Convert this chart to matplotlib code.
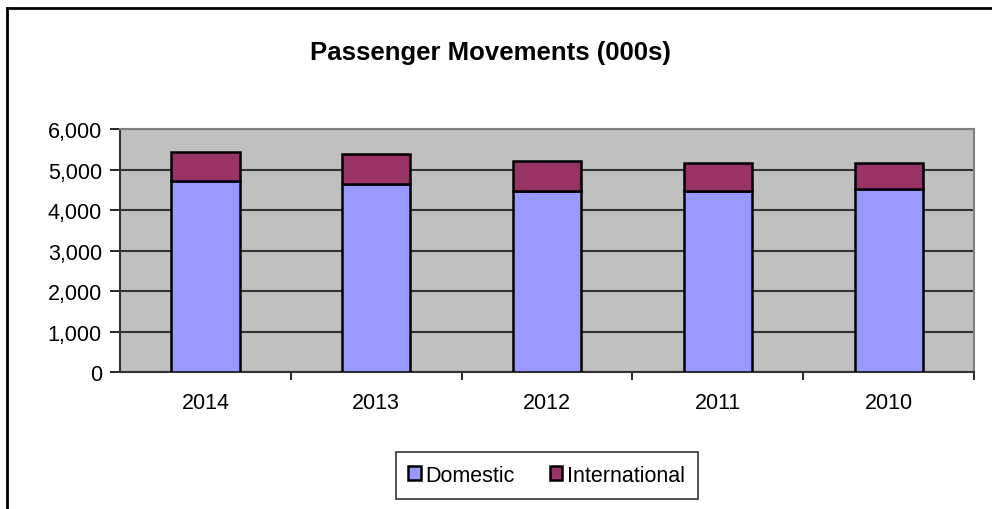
import matplotlib.pyplot as plt
from matplotlib.lines import Line2D
from matplotlib.ticker import FuncFormatter

# Passenger movements (thousands)
years = ['2014', '2013', '2012', '2011', '2010']
domestic = [4714, 4647, 4482, 4474, 4516]
international = [730, 741, 725, 684, 642]

plt.rcParams['font.family'] = ['Liberation Sans', 'DejaVu Sans']

fig = plt.figure(figsize=(9.92, 5.10), dpi=100)
ax = fig.add_axes([0.121, 0.268, 0.861, 0.477])

# outer frame, only top and left visible in the reference
fig.add_artist(Line2D([0.007, 0.007], [0, 0.982], transform=fig.transFigure,
                      color='black', lw=2))
fig.add_artist(Line2D([0.007, 1.0], [0.982, 0.982], transform=fig.transFigure,
                      color='black', lw=2))

x = range(len(years))
ax.set_facecolor('#C0C0C0')
ax.bar(x, domestic, width=0.4, color='#9999FF', edgecolor='black', lw=1.8,
       label='Domestic', zorder=3)
ax.bar(x, international, width=0.4, bottom=domestic, color='#993366',
       edgecolor='black', lw=1.8, label='International', zorder=3)

ax.set_xlim(-0.5, len(years) - 0.5)
ax.set_ylim(0, 6000)
ax.set_yticks(range(0, 6001, 1000))
ax.yaxis.set_major_formatter(FuncFormatter(lambda v, p: f'{int(v):,}'))
ax.grid(axis='y', color='#333333', lw=1.5, zorder=1)

ax.set_xticks(x)
ax.set_xticklabels(years)
ax.set_xticks([i + 0.5 for i in range(len(years))], minor=True)
ax.tick_params(axis='x', which='major', length=0, pad=14, labelsize=15.5)
ax.tick_params(axis='x', which='minor', length=6, width=1.2, direction='out')
ax.tick_params(axis='y', length=7, width=1.2, pad=6, labelsize=15.5)

for side in ['left', 'bottom']:
    ax.spines[side].set_color('#333333')
    ax.spines[side].set_linewidth(1.5)
for side in ['top', 'right']:
    ax.spines[side].set_color('#808080')
    ax.spines[side].set_linewidth(1.5)

fig.text(0.494, 0.896, 'Passenger Movements (000s)', ha='center', va='center',
         fontsize=18.5, fontweight='bold')

leg = fig.legend(loc='center', bbox_to_anchor=(0.551, 0.066), ncol=2,
                 fontsize=15.5, frameon=True, fancybox=False, edgecolor='black',
                 handlelength=0.6, handleheight=0.6, handletextpad=0.2,
                 columnspacing=1.6, borderpad=0.6)
leg.get_frame().set_linewidth(1.2)

fig.savefig('out.png', dpi=100)
